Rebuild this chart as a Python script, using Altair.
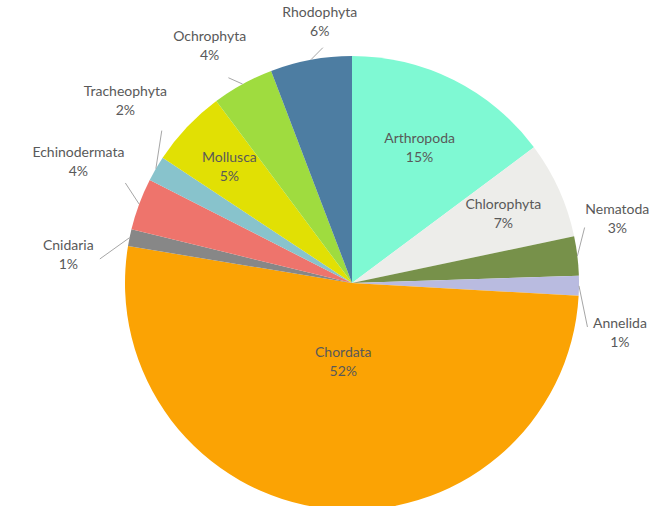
import altair as alt
import pandas as pd

names = ["Arthropoda", "Chlorophyta", "Nematoda", "Annelida", "Chordata", "Cnidaria",
         "Echinodermata", "Tracheophyta", "Mollusca", "Ochrophyta", "Rhodophyta"]
shares = [14.8, 6.9, 2.8, 1.4, 51.7, 1.2, 3.7, 1.8, 5.5, 4.4, 5.8]
colors = ["#7FF9D3", "#EDEDEA", "#77914A", "#B9BBE0", "#FBA304", "#878787",
          "#EE746C", "#88C3CC", "#E1E004", "#9FDC3F", "#4D7DA2"]
inside_labels = ["Arthropoda", "Chlorophyta", "Chordata", "Mollusca"]

df = pd.DataFrame({"name": names, "share": shares, "idx": list(range(len(names)))})
df["inside"] = df["name"].isin(inside_labels)

R = 227
W, H = 654, 506
CX, CY = 352, 283
FS = 14
LH = 19
GAP = 24  # minimum angular gap (deg) between outside labels

xs = alt.Scale(domain=[-CX, W - CX], nice=False, zero=False)
ys = alt.Scale(domain=[-(H - CY), CY], nice=False, zero=False)

base = alt.Chart(df).transform_window(
    cum="sum(share)", sort=[alt.SortField("idx")], frame=[None, 0]
).transform_joinaggregate(
    total="sum(share)"
).transform_calculate(
    frac="datum.share/datum.total",
    a1="2*PI*datum.cum/datum.total",
    a0="2*PI*(datum.cum-datum.share)/datum.total",
).transform_calculate(
    mid="(datum.a0+datum.a1)/2",
    label="datum.name + '\\n' + round(100*datum.frac) + '%'",
)

arc = base.mark_arc(radius=R).encode(
    x=alt.XDatum(0, type="quantitative", scale=xs, axis=None),
    y=alt.YDatum(0, type="quantitative", scale=ys, axis=None),
    theta=alt.Theta("a0:Q", scale=None),
    theta2="a1:Q",
    color=alt.Color("name:N", scale=alt.Scale(domain=names, range=colors), legend=None),
)

txt = dict(font="Lato", fontSize=FS, color="#595959", lineBreak="\n", lineHeight=LH,
           align="center", baseline="middle", dy=-LH / 2)

inside = base.transform_filter("datum.inside").transform_calculate(
    rc=f"{R}*(0.79 - 0.85*datum.frac)"
).transform_calculate(
    ix="datum.rc*sin(datum.mid)",
    iy="datum.rc*cos(datum.mid)",
).mark_text(**txt).encode(
    x=alt.X("ix:Q", scale=xs, axis=None),
    y=alt.Y("iy:Q", scale=ys, axis=None),
    text="label:N",
)

outside = base.transform_filter("!datum.inside").transform_window(
    pm="lag(mid)", nm="lead(mid)", sort=[alt.SortField("idx")]
).transform_calculate(
    gp="datum.pm == null ? 999 : (datum.mid - datum.pm)*180/PI",
    gn="datum.nm == null ? 999 : (datum.nm - datum.mid)*180/PI",
).transform_calculate(
    la=f"datum.mid + (0.6*max(0, {GAP}-datum.gp) - 0.4*max(0, {GAP}-datum.gn))*PI/180",
    hw="3.5*length(datum.name)",
).transform_calculate(
    d="sin(datum.la) < 0 ? 30 - 18*abs(cos(datum.la)) : 16 - 8*abs(cos(datum.la))",
).transform_calculate(
    rl=f"{R} + datum.d + {LH}*abs(cos(datum.la)) + datum.hw*abs(sin(datum.la))",
    lx1=f"{R}*sin(datum.mid)",
    ly1=f"{R}*cos(datum.mid)",
    lx2=f"({R}+datum.d-2)*sin(datum.la)",
    ly2=f"({R}+datum.d-2)*cos(datum.la)",
).transform_calculate(
    ox="datum.rl*sin(datum.la)",
    oy="datum.rl*cos(datum.la)",
)

rules = outside.mark_rule(color="#A6A6A6", strokeWidth=1).encode(
    x=alt.X("lx1:Q", scale=xs, axis=None),
    y=alt.Y("ly1:Q", scale=ys, axis=None),
    x2="lx2:Q",
    y2="ly2:Q",
)

out_text = outside.mark_text(**txt).encode(
    x=alt.X("ox:Q", scale=xs, axis=None),
    y=alt.Y("oy:Q", scale=ys, axis=None),
    text="label:N",
)

chart = alt.layer(
    arc, rules, inside, out_text,
).properties(
    width=W, height=H, padding=0, autosize=alt.AutoSizeParams(type="none")
).configure_view(stroke=None)

chart.save("out.html", embed_options={"renderer": "svg", "actions": False})
